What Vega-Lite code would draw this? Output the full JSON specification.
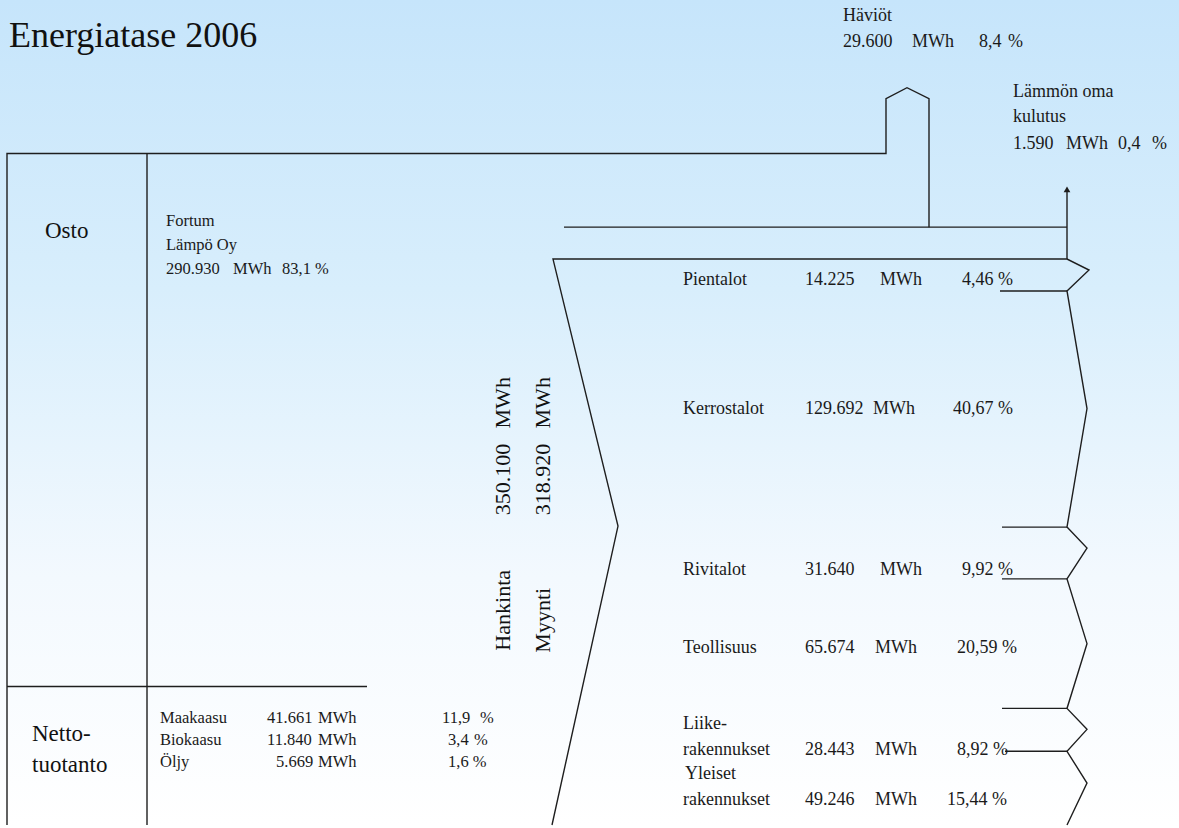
{
  "$schema": "https://vega.github.io/schema/vega-lite/v6.json",
  "width": 1179,
  "height": 828,
  "autosize": {"type": "fit", "contains": "padding"},
  "padding": 0,
  "config": {"view": {"stroke": null}},
  "datasets": {
    "bg": [{"x": 0, "x2": 1179, "y": 0, "y2": 828}],
    "paths": [
      {"p": "box", "i": 0, "x": 7, "y": 828},
      {"p": "box", "i": 1, "x": 7, "y": 154},
      {"p": "box", "i": 2, "x": 886, "y": 154},
      {"p": "box", "i": 3, "x": 886, "y": 99},
      {"p": "box", "i": 4, "x": 907, "y": 88},
      {"p": "box", "i": 5, "x": 929, "y": 99},
      {"p": "box", "i": 6, "x": 929, "y": 228},
      {"p": "div", "i": 0, "x": 147, "y": 154},
      {"p": "div", "i": 1, "x": 147, "y": 828},
      {"p": "hl", "i": 0, "x": 7, "y": 689},
      {"p": "hl", "i": 1, "x": 367, "y": 689},
      {"p": "mid", "i": 0, "x": 564, "y": 228},
      {"p": "mid", "i": 1, "x": 1067, "y": 228},
      {"p": "arr", "i": 0, "x": 1067, "y": 260},
      {"p": "arr", "i": 1, "x": 1067, "y": 192},
      {"p": "chev", "i": 0, "x": 552, "y": 828},
      {"p": "chev", "i": 1, "x": 618, "y": 528},
      {"p": "chev", "i": 2, "x": 553, "y": 260},
      {"p": "chev", "i": 3, "x": 1067, "y": 260},
      {"p": "chev", "i": 4, "x": 1089, "y": 271},
      {"p": "chev", "i": 5, "x": 1067, "y": 292},
      {"p": "chev", "i": 6, "x": 1087, "y": 410},
      {"p": "chev", "i": 7, "x": 1067, "y": 529},
      {"p": "chev", "i": 8, "x": 1087, "y": 550},
      {"p": "chev", "i": 9, "x": 1067, "y": 581},
      {"p": "chev", "i": 10, "x": 1087, "y": 646},
      {"p": "chev", "i": 11, "x": 1067, "y": 711},
      {"p": "chev", "i": 12, "x": 1087, "y": 732},
      {"p": "chev", "i": 13, "x": 1067, "y": 754},
      {"p": "chev", "i": 14, "x": 1087, "y": 786},
      {"p": "chev", "i": 15, "x": 1067, "y": 828},
      {"p": "t1", "i": 0, "x": 1000, "y": 292},
      {"p": "t1", "i": 1, "x": 1067, "y": 292},
      {"p": "t2", "i": 0, "x": 1002, "y": 529},
      {"p": "t2", "i": 1, "x": 1067, "y": 529},
      {"p": "t3", "i": 0, "x": 1002, "y": 581},
      {"p": "t3", "i": 1, "x": 1067, "y": 581},
      {"p": "t4", "i": 0, "x": 1002, "y": 711},
      {"p": "t4", "i": 1, "x": 1067, "y": 711},
      {"p": "t5", "i": 0, "x": 1005, "y": 754},
      {"p": "t5", "i": 1, "x": 1067, "y": 754}
    ],
    "arrowhead": [{"x": 1067, "y": 190}],
    "texts": [
      {"g": "title", "x": 9, "y": 47, "t": "Energiatase 2006"},
      {"g": "head", "x": 45, "y": 239, "t": "Osto"},
      {"g": "head", "x": 32, "y": 744, "t": "Netto-"},
      {"g": "head", "x": 32, "y": 775, "t": "tuotanto"},
      {"g": "rot", "x": 510, "y": 653, "t": "Hankinta"},
      {"g": "rot", "x": 510, "y": 517, "t": "350.100"},
      {"g": "rot", "x": 510, "y": 430, "t": "MWh"},
      {"g": "rot", "x": 550, "y": 655, "t": "Myynti"},
      {"g": "rot", "x": 550, "y": 517, "t": "318.920"},
      {"g": "rot", "x": 550, "y": 430, "t": "MWh"},
      {"g": "s", "x": 166, "y": 227, "t": "Fortum"},
      {"g": "s", "x": 166, "y": 251, "t": "Lämpö Oy"},
      {"g": "s", "x": 166, "y": 275, "t": "290.930"},
      {"g": "s", "x": 233, "y": 275, "t": "MWh"},
      {"g": "s", "x": 282, "y": 275, "t": "83,1 %"},
      {"g": "s", "x": 160, "y": 726, "t": "Maakaasu"},
      {"g": "s", "x": 267, "y": 726, "t": "41.661"},
      {"g": "s", "x": 318, "y": 726, "t": "MWh"},
      {"g": "s", "x": 442, "y": 726, "t": "11,9"},
      {"g": "s", "x": 480, "y": 726, "t": "%"},
      {"g": "s", "x": 160, "y": 748, "t": "Biokaasu"},
      {"g": "s", "x": 267, "y": 748, "t": "11.840"},
      {"g": "s", "x": 318, "y": 748, "t": "MWh"},
      {"g": "s", "x": 448, "y": 748, "t": "3,4"},
      {"g": "s", "x": 474, "y": 748, "t": "%"},
      {"g": "s", "x": 160, "y": 770, "t": "Öljy"},
      {"g": "s", "x": 276, "y": 770, "t": "5.669"},
      {"g": "s", "x": 318, "y": 770, "t": "MWh"},
      {"g": "s", "x": 448, "y": 770, "t": "1,6 %"},
      {"g": "m", "x": 843, "y": 21, "t": "Häviöt"},
      {"g": "m", "x": 843, "y": 47, "t": "29.600"},
      {"g": "m", "x": 912, "y": 47, "t": "MWh"},
      {"g": "m", "x": 979, "y": 47, "t": "8,4"},
      {"g": "m", "x": 1008, "y": 47, "t": "%"},
      {"g": "m", "x": 1013, "y": 97, "t": "Lämmön oma"},
      {"g": "m", "x": 1013, "y": 122, "t": "kulutus"},
      {"g": "m", "x": 1013, "y": 150, "t": "1.590"},
      {"g": "m", "x": 1066, "y": 150, "t": "MWh"},
      {"g": "m", "x": 1118, "y": 150, "t": "0,4"},
      {"g": "m", "x": 1152, "y": 150, "t": "%"},
      {"g": "m", "x": 683, "y": 286, "t": "Pientalot"},
      {"g": "m", "x": 805, "y": 286, "t": "14.225"},
      {"g": "m", "x": 880, "y": 286, "t": "MWh"},
      {"g": "m", "x": 962, "y": 286, "t": "4,46 %"},
      {"g": "m", "x": 683, "y": 416, "t": "Kerrostalot"},
      {"g": "m", "x": 805, "y": 416, "t": "129.692"},
      {"g": "m", "x": 873, "y": 416, "t": "MWh"},
      {"g": "m", "x": 953, "y": 416, "t": "40,67 %"},
      {"g": "m", "x": 683, "y": 577, "t": "Rivitalot"},
      {"g": "m", "x": 805, "y": 577, "t": "31.640"},
      {"g": "m", "x": 880, "y": 577, "t": "MWh"},
      {"g": "m", "x": 962, "y": 577, "t": "9,92 %"},
      {"g": "m", "x": 683, "y": 655, "t": "Teollisuus"},
      {"g": "m", "x": 805, "y": 655, "t": "65.674"},
      {"g": "m", "x": 875, "y": 655, "t": "MWh"},
      {"g": "m", "x": 957, "y": 655, "t": "20,59 %"},
      {"g": "m", "x": 683, "y": 732, "t": "Liike-"},
      {"g": "m", "x": 683, "y": 758, "t": "rakennukset"},
      {"g": "m", "x": 805, "y": 758, "t": "28.443"},
      {"g": "m", "x": 875, "y": 758, "t": "MWh"},
      {"g": "m", "x": 957, "y": 758, "t": "8,92 %"},
      {"g": "m", "x": 685, "y": 782, "t": "Yleiset"},
      {"g": "m", "x": 683, "y": 808, "t": "rakennukset"},
      {"g": "m", "x": 805, "y": 808, "t": "49.246"},
      {"g": "m", "x": 875, "y": 808, "t": "MWh"},
      {"g": "m", "x": 947, "y": 808, "t": "15,44 %"}
    ]
  },
  "layer": [
    {
      "data": {"name": "bg"},
      "mark": {
        "type": "rect",
        "color": {
          "gradient": "linear",
          "x1": 0, "y1": 0, "x2": 0, "y2": 1,
          "stops": [
            {"offset": 0, "color": "#c6e5fb"},
            {"offset": 0.35, "color": "#d8eefc"},
            {"offset": 0.7, "color": "#f3f9fe"},
            {"offset": 1, "color": "#ffffff"}
          ]
        }
      },
      "encoding": {
        "x": {"field": "x", "type": "quantitative", "scale": {"domain": [0, 1179], "nice": false, "zero": false}, "axis": null},
        "x2": {"field": "x2"},
        "y": {"field": "y", "type": "quantitative", "scale": {"domain": [0, 828], "nice": false, "zero": false, "reverse": true}, "axis": null},
        "y2": {"field": "y2"}
      }
    },
    {
      "data": {"name": "paths"},
      "mark": {"type": "line", "color": "#1e1e1e", "strokeWidth": 1.4, "strokeJoin": "miter"},
      "encoding": {
        "x": {"field": "x", "type": "quantitative", "scale": {"domain": [0, 1179], "nice": false, "zero": false}, "axis": null},
        "y": {"field": "y", "type": "quantitative", "scale": {"domain": [0, 828], "nice": false, "zero": false, "reverse": true}, "axis": null},
        "detail": {"field": "p", "type": "nominal"},
        "order": {"field": "i", "type": "quantitative"}
      }
    },
    {
      "data": {"name": "arrowhead"},
      "mark": {"type": "point", "shape": "triangle-up", "filled": true, "color": "#1e1e1e", "size": 45, "opacity": 1},
      "encoding": {
        "x": {"field": "x", "type": "quantitative", "axis": null},
        "y": {"field": "y", "type": "quantitative", "axis": null}
      }
    },
    {
      "data": {"name": "texts"},
      "transform": [{"filter": "datum.g === 'title'"}],
      "mark": {"type": "text", "font": "Liberation Serif", "fontSize": 36, "align": "left", "baseline": "alphabetic", "color": "#111111"},
      "encoding": {
        "x": {"field": "x", "type": "quantitative", "axis": null},
        "y": {"field": "y", "type": "quantitative", "axis": null},
        "text": {"field": "t"}
      }
    },
    {
      "data": {"name": "texts"},
      "transform": [{"filter": "datum.g === 'head'"}],
      "mark": {"type": "text", "font": "Liberation Serif", "fontSize": 23, "align": "left", "baseline": "alphabetic", "color": "#111111"},
      "encoding": {
        "x": {"field": "x", "type": "quantitative", "axis": null},
        "y": {"field": "y", "type": "quantitative", "axis": null},
        "text": {"field": "t"}
      }
    },
    {
      "data": {"name": "texts"},
      "transform": [{"filter": "datum.g === 'rot'"}],
      "mark": {"type": "text", "font": "Liberation Serif", "fontSize": 22, "align": "left", "baseline": "alphabetic", "angle": 270, "color": "#111111"},
      "encoding": {
        "x": {"field": "x", "type": "quantitative", "axis": null},
        "y": {"field": "y", "type": "quantitative", "axis": null},
        "text": {"field": "t"}
      }
    },
    {
      "data": {"name": "texts"},
      "transform": [{"filter": "datum.g === 's'"}],
      "mark": {"type": "text", "font": "Liberation Serif", "fontSize": 16.5, "align": "left", "baseline": "alphabetic", "color": "#1a1a1a"},
      "encoding": {
        "x": {"field": "x", "type": "quantitative", "axis": null},
        "y": {"field": "y", "type": "quantitative", "axis": null},
        "text": {"field": "t"}
      }
    },
    {
      "data": {"name": "texts"},
      "transform": [{"filter": "datum.g === 'm'"}],
      "mark": {"type": "text", "font": "Liberation Serif", "fontSize": 18, "align": "left", "baseline": "alphabetic", "color": "#1a1a1a"},
      "encoding": {
        "x": {"field": "x", "type": "quantitative", "axis": null},
        "y": {"field": "y", "type": "quantitative", "axis": null},
        "text": {"field": "t"}
      }
    }
  ]
}
